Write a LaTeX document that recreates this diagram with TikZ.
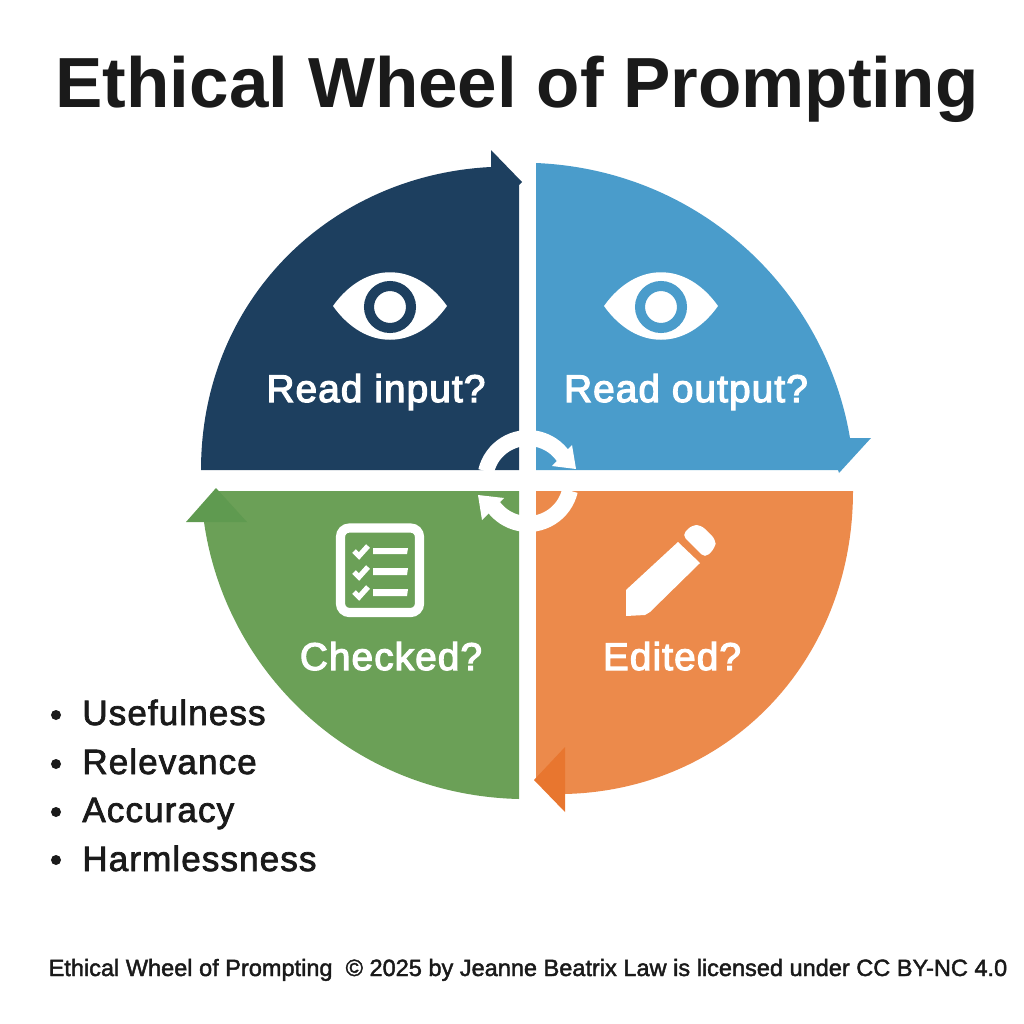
\documentclass[tikz,border=0pt]{standalone}
\usepackage{fontspec}
\setmainfont{Liberation Sans}
\newfontfamily\wheelfont[LetterSpace=3]{Liberation Sans}
\newfontfamily\listfont[LetterSpace=3]{Liberation Sans}
\newcommand{\heavytext}[2]{\special{pdf:literal direct 2 Tr #1 w}#2\special{pdf:literal direct 0 Tr 0.4 w}}

\definecolor{inputblue}{HTML}{1D3F5F}
\definecolor{outputblue}{HTML}{4A9CCB}
\definecolor{editorange}{HTML}{EC8A4B}
\definecolor{editdark}{HTML}{E8762F}
\definecolor{checkgreen}{HTML}{6BA057}
\definecolor{checkdark}{HTML}{5F9A50}
\definecolor{inktext}{HTML}{1A1A1A}

\tikzset{
  titletext/.style={text=inktext, anchor=base, inner sep=0pt, font=\fontsize{40.4}{48}\selectfont\bfseries},
  wheeltext/.style={text=white, anchor=base, inner sep=0pt, font=\wheelfont\fontsize{22}{24}\selectfont},
  listtext/.style={text=inktext, anchor=base west, inner sep=0pt, font=\listfont\fontsize{20}{24}\selectfont},
  listdot/.style={circle, fill=inktext, inner sep=0pt, minimum size=5.7pt},
  footertext/.style={text=inktext, anchor=base, inner sep=0pt, font=\fontsize{13.4}{16}\selectfont},
  ringline/.style={draw=white, line width=9.1pt},
  iconline/.style={draw=white, line width=3pt},
  barline/.style={fill=white, draw=none}
}

\begin{document}
\begin{tikzpicture}[x=0.02cm, y=-0.02cm]
  \useasboundingbox (0,0) rectangle (1024,1024);

  % Quadrants
  \fill[inputblue] (519,470) -- (201,470) .. controls (201,300) and (330,175) .. (491,167)
    -- (491,150) -- (522,182) -- (519,185) -- cycle;
  \fill[outputblue] (536,470) -- (536,163) .. controls (700,170) and (825,290) .. (850,438)
    -- (871,438) -- (839,473) -- (838,470) -- cycle;
  \fill[editorange] (536,491) -- (853,491) .. controls (853,660) and (730,790) .. (565,794)
    -- (536,780) -- cycle;
  \fill[editdark] (565,747) -- (534,780) -- (565,812) -- cycle;
  \fill[checkgreen] (519,491) -- (216,491) -- (204,522) .. controls (225,670) and (350,795) .. (519,799) -- cycle;
  \fill[checkdark] (216,488) -- (186,522) -- (247,522) -- cycle;

  % Centre ring
  \draw[ringline] (528,481) ++(193:43) arc[start angle=193, end angle=325, radius=43];
  \draw[ringline] (528,481) ++(13:43) arc[start angle=13, end angle=143, radius=43];
  \fill[white] (576,469) -- (572,445) -- (552,466) -- cycle;
  \fill[white] (478,495) -- (504,498) -- (482,520) -- cycle;

  % Eyes
  \fill[white] (333,306) .. controls (365,261) and (415,261) .. (447,306)
    .. controls (415,351) and (365,351) .. (333,306) -- cycle;
  \draw[inputblue, line width=5.7pt] (390,307) circle (21);
  \fill[white] (604,306) .. controls (636,261) and (686,261) .. (718,306)
    .. controls (686,351) and (636,351) .. (604,306) -- cycle;
  \draw[outputblue, line width=5.7pt] (661,307) circle (21);

  % Checklist
  \draw[white, line width=5.2pt, rounded corners=5pt] (340.5,528) rectangle (419.5,612.5);
  \draw[iconline] (354,551) -- (359,556) -- (368,546);
  \draw[iconline] (354,572) -- (359,577) -- (368,567);
  \draw[iconline] (354,592) -- (359,597) -- (368,587);
  \fill[barline] (373,548) -- (408,548) -- (407,554) -- (373,554) -- cycle;
  \fill[barline] (373,568) -- (408,568) -- (407,575) -- (373,575) -- cycle;
  \fill[barline] (373,589) -- (408,589) -- (407,596) -- (373,596) -- cycle;

  % Pencil
  \fill[white] (678,542) -- (700,563) -- (650,612) -- (645,615) -- (626,616) -- (626,590) -- cycle;
  \fill[white, rounded corners=3pt] (682,535) -- (692,525) -- (701,525) -- (716,540) -- (715,548) -- (705,558) -- cycle;

  % Nodes
  \node[titletext] (title) at (517,108) {Ethical Wheel of Prompting};
  \node[wheeltext] (readin) at (376,402) {\heavytext{0.7}{Read input?}};
  \node[wheeltext] (readout) at (686,402) {\heavytext{0.7}{Read output?}};
  \node[wheeltext] (checked) at (391,670) {\heavytext{0.7}{Checked?}};
  \node[wheeltext] (edited) at (672,670) {\heavytext{0.7}{Edited?}};

  \node[listdot] (dot1) at (56,715) {};
  \node[listdot] (dot2) at (56,764) {};
  \node[listdot] (dot3) at (56,812) {};
  \node[listdot] (dot4) at (56,860) {};
  \node[listtext] (useful) at (82,725) {\heavytext{0.4}{Usefulness}};
  \node[listtext] (relevant) at (82,774) {\heavytext{0.4}{Relevance}};
  \node[listtext] (accurate) at (82,822) {\heavytext{0.4}{Accuracy}};
  \node[listtext] (harmless) at (82,871) {\heavytext{0.4}{Harmlessness}};

  \node[footertext] (footer) at (528,976) {\heavytext{0.25}{Ethical Wheel of Prompting\ \ © 2025 by Jeanne Beatrix Law is licensed under CC BY-NC 4.0}};
\end{tikzpicture}
\end{document}
